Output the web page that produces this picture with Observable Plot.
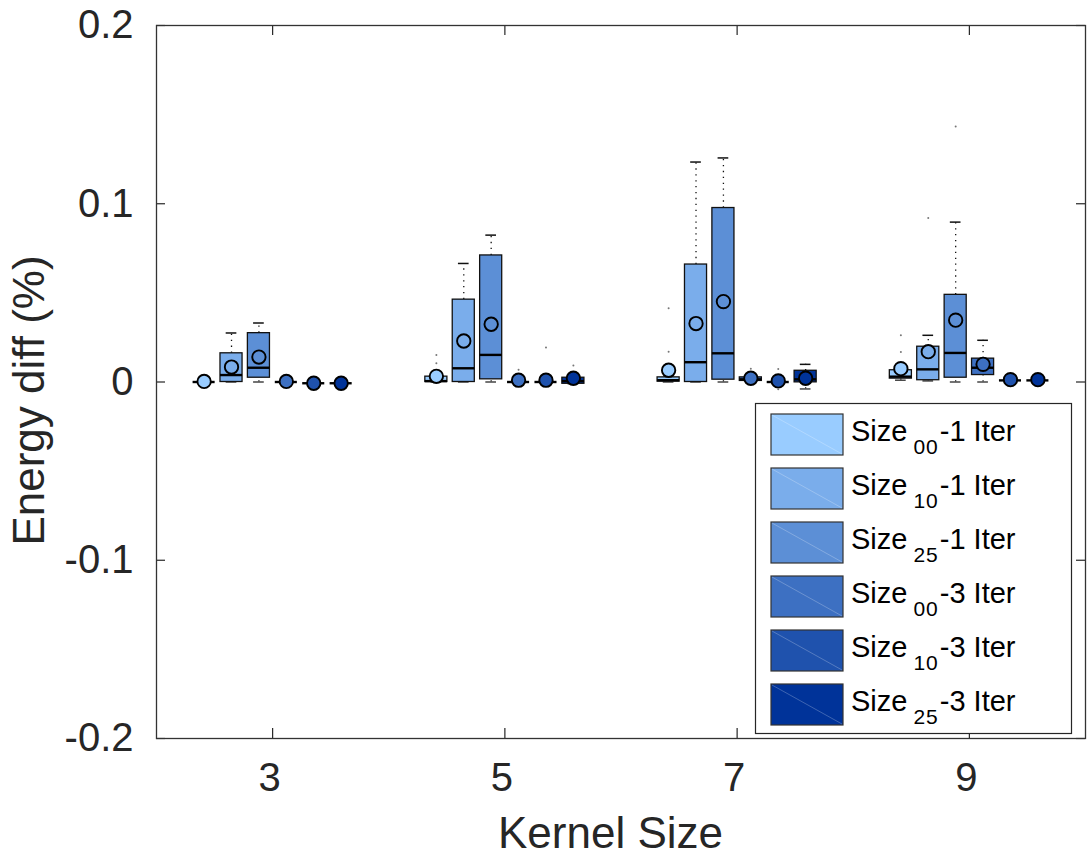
<!DOCTYPE html>
<html>
<head>
<meta charset="utf-8">
<script src="https://cdn.jsdelivr.net/npm/d3@7"></script>
<script src="https://cdn.jsdelivr.net/npm/@observablehq/plot@0.6"></script>
<style>
  body { margin: 0; background: #fff; }
</style>
</head>
<body>
<div id="chart"></div>
<script>
// Kernel sizes on the x axis and the six configurations drawn in each group
const kernels = [3, 5, 7, 9];
const xTickLabels = ["3", "5", "7", "9"];
const seriesIds = ["00-1", "10-1", "25-1", "00-3", "10-3", "25-3"];
const seriesColors = ["#99ccff", "#7aadeb", "#5c8fd6", "#3d70c2", "#1f52ad", "#003399"];
const legendName = "Size";
const legendSub = ["00", "10", "25", "00", "10", "25"];
const legendSuffix = ["-1 Iter", "-1 Iter", "-1 Iter", "-3 Iter", "-3 Iter", "-3 Iter"];
const yTicks = [-0.2, -0.1, 0, 0.1, 0.2];
const yTickLabels = ["-0.2", "-0.1", "0", "0.1", "0.2"];
const xLabel = "Kernel Size";
const yLabel = "Energy diff (%)";

// Box statistics: one row per kernel size, one column per configuration
const whiskerLow = [
  [0, 0, 0, 0, -0.0007, -0.0007],
  [0, 0, 0, 0, 0, -0.001],
  [0, 0, 0, 0.0006, 0, -0.0039],
  [0.001, 0.0006, 0, 0, 0.0009, 0.0009]
];
const q1 = [
  [0, 0, 0.0024, 0, -0.0007, -0.0007],
  [0, 0, 0.0015, 0, 0, -0.001],
  [0.0002, 0, 0.0013, 0.0006, 0, -0.0002],
  [0.0019, 0.001, 0.0024, 0.0039, 0.0009, 0.0009]
];
const median = [
  [0, 0.0039, 0.008, 0, -0.0007, -0.0007],
  [0.0005, 0.0077, 0.0152, 0, 0, 0.0005],
  [0.001, 0.0111, 0.0161, 0.0015, 0, 0.0015],
  [0.003, 0.0071, 0.0163, 0.008, 0.0009, 0.0009]
];
const q3 = [
  [0, 0.0161, 0.0274, 0, -0.0007, -0.0007],
  [0.003, 0.0462, 0.071, 0, 0, 0.0024],
  [0.0026, 0.0659, 0.0976, 0.0026, 0, 0.0063],
  [0.0066, 0.0198, 0.0489, 0.0131, 0.0009, 0.0009]
];
const whiskerHigh = [
  [0, 0.0275, 0.0331, 0, -0.0007, -0.0007],
  [0.003, 0.0665, 0.0824, 0, 0, 0.0024],
  [0.0026, 0.1234, 0.1257, 0.0026, 0, 0.0099],
  [0.0066, 0.0262, 0.0897, 0.0234, 0.0009, 0.0009]
];
const mean = [
  [0.0003, 0.0084, 0.014, 0.0003, -0.0007, -0.0007],
  [0.0032, 0.023, 0.0324, 0.001, 0.001, 0.0021],
  [0.0066, 0.0328, 0.0451, 0.0021, 0.0006, 0.0021],
  [0.0075, 0.017, 0.0347, 0.0099, 0.0013, 0.0013]
];
// Outliers: [kernel size, configuration index, value]
const outliers = [
  [5, 0, 0.0105], [5, 0, 0.0152], [5, 3, 0.0069], [5, 4, 0.0193], [5, 5, 0.0092],
  [7, 0, 0.017], [7, 0, 0.0414], [7, 3, 0.0075], [7, 4, 0.0073], [7, 4, -0.0041],
  [9, 0, 0.0169], [9, 0, 0.0262], [9, 1, 0.092], [9, 2, 0.1434]
];

// Layout of the boxes inside each kernel group (x units)
const groupStep = 0.236;
const boxHalf = 0.095;
const capHalf = 0.046;
const offset = s => (s - (seriesIds.length - 1) / 2) * groupStep;

const rows = kernels.flatMap((k, i) => seriesIds.map((id, s) => ({
  id, s, x: k + offset(s),
  lo: whiskerLow[i][s], q1: q1[i][s], med: median[i][s],
  q3: q3[i][s], hi: whiskerHigh[i][s], mean: mean[i][s]
})));
const outlierRows = outliers.map(([k, s, v]) => ({x: k + offset(s), v}));

const W = 1088, H = 859;
const mL = 156, mR = 3, mT = 25, mB = 121;
const plotW = W - mL - mR, plotH = H - mT - mB;
const ink = "#262626";
const font = "'Liberation Sans', Arial, Helvetica, sans-serif";

const chart = Plot.plot({
  width: W, height: H,
  marginLeft: mL, marginRight: mR, marginTop: mT, marginBottom: mB,
  x: {domain: [2, 10]},
  y: {domain: [-0.2, 0.2]},
  color: {domain: seriesIds, range: seriesColors},
  style: {fontFamily: font, color: ink, background: "#fff", overflow: "visible"},
  marks: [
    // dotted whiskers
    Plot.ruleX(rows.filter(d => d.hi > d.q3), {x: "x", y1: "q3", y2: "hi", stroke: "#111", strokeWidth: 1.3, strokeDasharray: "1.3,4.6"}),
    Plot.ruleX(rows.filter(d => d.lo < d.q1), {x: "x", y1: "lo", y2: "q1", stroke: "#111", strokeWidth: 1.3, strokeDasharray: "1.3,4.6"}),
    // whisker caps
    Plot.ruleY(rows, {y: "hi", x1: d => d.x - capHalf, x2: d => d.x + capHalf, stroke: "#111", strokeWidth: 1.5}),
    Plot.ruleY(rows, {y: "lo", x1: d => d.x - capHalf, x2: d => d.x + capHalf, stroke: "#444", strokeWidth: 1.5}),
    // boxes
    Plot.rect(rows, {x1: d => d.x - boxHalf, x2: d => d.x + boxHalf, y1: "q1", y2: "q3", fill: "id", stroke: "#111", strokeWidth: 1.3}),
    // medians
    Plot.ruleY(rows, {y: "med", x1: d => d.x - boxHalf, x2: d => d.x + boxHalf, stroke: "#000", strokeWidth: 2.4}),
    // means
    Plot.dot(rows, {x: "x", y: "mean", r: 6.7, fill: "id", stroke: "#000", strokeWidth: 1.9}),
    // outliers
    Plot.dot(outlierRows, {x: "x", y: "v", r: 1, fill: "#777", stroke: "none"}),
    // inward ticks on all four sides
    Plot.tickY(yTicks, {y: d => d, insetRight: plotW - 9, stroke: ink, strokeWidth: 1.2}),
    Plot.tickY(yTicks, {y: d => d, insetLeft: plotW - 9, stroke: ink, strokeWidth: 1.2}),
    Plot.tickX(kernels, {x: d => d, insetTop: plotH - 10, stroke: ink, strokeWidth: 1.2}),
    Plot.tickX(kernels, {x: d => d, insetBottom: plotH - 10, stroke: ink, strokeWidth: 1.2}),
    Plot.frame({stroke: "#333", strokeWidth: 1.3}),
    // tick labels
    Plot.axisY(yTicks, {tickSize: 0, tickPadding: 23, fontSize: 40, label: null,
      tickFormat: d => yTickLabels[yTicks.indexOf(d)]}),
    Plot.axisX(kernels, {tickSize: 0, tickPadding: 24, fontSize: 40, label: null, dx: -3,
      tickFormat: d => xTickLabels[kernels.indexOf(d)]}),
    // axis titles
    Plot.text([xLabel], {frameAnchor: "bottom", textAnchor: "middle", dy: 109, dx: -10.5, lineAnchor: "bottom", fontSize: 44, fill: ink}),
    Plot.text([yLabel], {frameAnchor: "left", textAnchor: "middle", rotate: -90, dx: -113, dy: 18.5, lineAnchor: "bottom", fontSize: 44, fill: ink})
  ]
});

// Legend box in the lower right of the plot area
const svg = d3.select(chart);
const lg = svg.append("g").attr("transform", "translate(755.5,403.5)");
lg.append("rect").attr("width", 316).attr("height", 330)
  .attr("fill", "#fff").attr("stroke", ink).attr("stroke-width", 1.2);
seriesIds.forEach((id, i) => {
  const g = lg.append("g").attr("transform", `translate(15.5,${10.5 + i * 54})`);
  g.append("rect").attr("width", 72).attr("height", 41)
    .attr("fill", seriesColors[i]).attr("stroke", "#333").attr("stroke-width", 1.2);
  g.append("line").attr("x1", 1).attr("y1", 1).attr("x2", 71).attr("y2", 40)
    .attr("stroke", "#fff").attr("stroke-opacity", 0.3).attr("stroke-width", 0.8);
  const t = g.append("g").attr("transform", "translate(80,27)")
    .append("text")
    .attr("font-size", 29).attr("fill", "#000")
    .attr("font-family", font)
    .style("text-anchor", "start");
  t.append("tspan").text(legendName);
  t.append("tspan").attr("dx", 6).attr("dy", 13).attr("font-size", 21)
    .attr("letter-spacing", 1).text(legendSub[i]);
  t.append("tspan").attr("dx", 1).attr("dy", -13).text(legendSuffix[i]);
});

document.getElementById("chart").appendChild(chart);
</script>
</body>
</html>
